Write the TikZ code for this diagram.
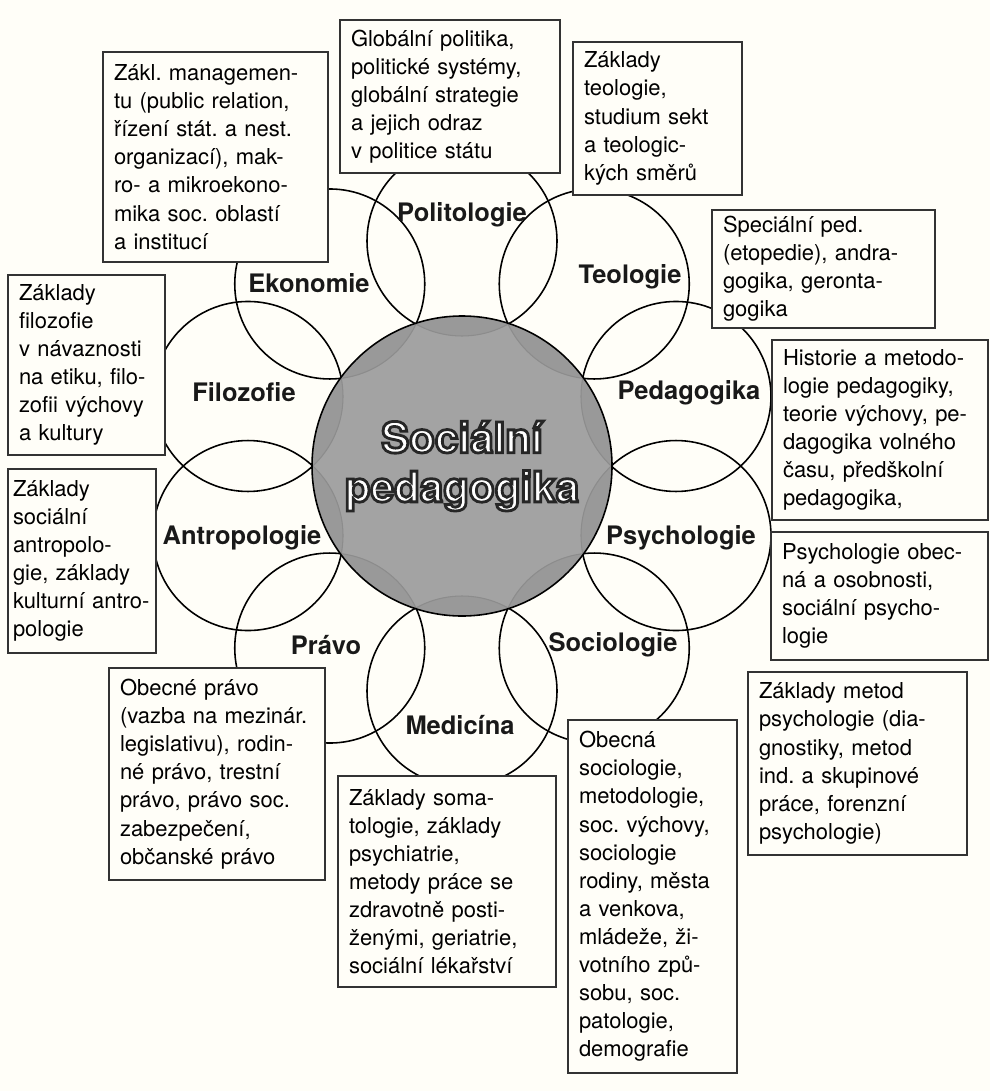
\documentclass[tikz,border=0pt]{standalone}
\usepackage{fontspec}
\setmainfont{TeX Gyre Heros}
\frenchspacing

\definecolor{paper}{HTML}{FFFEF8}
\definecolor{discgray}{HTML}{A3A3A3}
\definecolor{lensgray}{HTML}{999999}

% white letters with a dark outline
\newcommand{\outlined}[1]{{\color{white}\special{pdf:literal direct 2 Tr 1.6 w 0.15 G}#1\special{pdf:literal direct 0 Tr}}}

\tikzset{
  note/.style={draw=black!80, line width=0.7pt, fill=paper, align=left,
    inner xsep=0.22cm, inner ysep=0.1cm, font=\fontsize{12.5}{16}\selectfont},
  subject/.style={font=\fontsize{14.5}{17}\selectfont\bfseries, text=black!90, inner sep=1pt},
  petal/.style={line width=0.9pt},
}

\begin{document}
\begin{tikzpicture}[x=0.02cm,y=0.02cm]
\pgfmathsetmacro{\rcore}{150};
\pgfmathsetmacro{\rpetal}{95};
\pgfmathsetmacro{\dpetal}{225};

\useasboundingbox[fill=paper] (0,0) rectangle (990,-1091);

\coordinate (o) at (462,-466);
\foreach \i/\ang in {1/90,2/54,3/18,4/-18,5/-54,6/-90,7/-126,8/-162,9/162,10/126}
  \coordinate (p\i) at ([shift={(\ang:\dpetal)}]o);

% the ten overlapping circles
\foreach \i in {1,...,10}
  \draw[petal] (p\i) circle (\rpetal);

% central disc
\fill[discgray] (o) circle (\rcore);
\begin{scope}
\clip (o) circle (\rcore);
\foreach \i in {1,...,10}
  \draw[fill=lensgray, draw=black!45, line width=0.6pt] (p\i) circle (\rpetal);
\end{scope}
\draw[petal] (o) circle (\rcore);

\node[align=center, font=\fontsize{24}{28}\selectfont\bfseries] (core) at (o)
  {\outlined{Sociální}\\\outlined{pedagogika}};

% subjects
\node[subject] (politologie) at (462,-215) {Politologie};
\node[subject] (teologie) at (630,-277) {Teologie};
\node[subject] (pedagogika) at (689,-393) {Pedagogika};
\node[subject] (psychologie) at (681,-538) {Psychologie};
\node[subject] (sociologie) at (613,-645) {Sociologie};
\node[subject] (medicina) at (460,-725) {Medicína};
\node[subject] (pravo) at (326,-645) {Právo};
\node[subject] (antropologie) at (242,-538) {Antropologie};
\node[subject] (filozofie) at (244,-392) {Filozofie};
\node[subject] (ekonomie) at (309,-283) {Ekonomie};

% text boxes
\node[note, text width=4.06cm, minimum height=4.2cm] (ekonomiebox) at (215.5,-157)
  {Zákl. managemen-\\tu (public relation,\\řízení stát. a nest.\\organizací), mak-\\ro- a mikroekono-\\mika soc. oblastí\\a institucí};
\node[note, text width=3.96cm, minimum height=3.06cm] (politologiebox) at (450,-96.5)
  {Globální politika,\\politické systémy,\\globální strategie\\a jejich odraz\\v politice státu};
\node[note, text width=2.94cm, minimum height=3.06cm] (teologiebox) at (657.5,-118.5)
  {Základy\\teologie,\\studium sekt\\a teologic-\\kých směrů};
\node[note, text width=4.02cm, minimum height=2.36cm] (specialbox) at (823.5,-269)
  {Speciální ped.\\(etopedie), andra-\\gogika, geronta-\\gogika};
\node[note, text width=3.88cm, minimum height=3.6cm] (pedagogikabox) at (880,-430)
  {Historie a metodo-\\logie pedagogiky,\\teorie výchovy, pe-\\dagogika volného\\času, předškolní\\pedagogika,};
\node[note, text width=3.90cm, minimum height=2.56cm] (psychologiebox) at (879.5,-596)
  {Psychologie obec-\\ná a osobnosti,\\sociální psycho-\\logie};
\node[note, text width=3.94cm, minimum height=3.66cm] (metodybox) at (857.5,-763.5)
  {Základy metod\\psychologie (dia-\\gnostiky, metod\\ind. a skupinové\\práce, forenzní\\psychologie)};
\node[note, text width=2.94cm, minimum height=7.06cm] (sociologiebox) at (652.5,-896.5)
  {Obecná\\sociologie,\\metodologie,\\soc. výchovy,\\sociologie\\rodiny, města\\a venkova,\\mládeže, ži-\\votního způ-\\sobu, soc.\\patologie,\\demografie};
\node[note, text width=3.92cm, minimum height=4.22cm] (medicinabox) at (447,-881.5)
  {Základy soma-\\tologie, základy\\psychiatrie,\\metody práce se\\zdravotně posti-\\ženými, geriatrie,\\sociální lékařství};
\node[note, text width=3.88cm, minimum height=4.24cm] (pravobox) at (217,-774)
  {Obecné právo\\(vazba na mezinár.\\legislativu), rodin-\\né právo, trestní\\právo, právo soc.\\zabezpečení,\\občanské právo};
\node[note, inner xsep=0.1cm, text width=2.76cm, minimum height=3.68cm] (antropologiebox) at (82,-561)
  {Základy\\sociální\\antropolo-\\gie, základy\\kulturní antro-\\pologie};
\node[note, text width=2.70cm, minimum height=3.6cm] (filozofiebox) at (86.5,-365)
  {Základy\\filozofie\\v návaznosti\\na etiku, filo-\\zofii výchovy\\a kultury};
\end{tikzpicture}
\end{document}
